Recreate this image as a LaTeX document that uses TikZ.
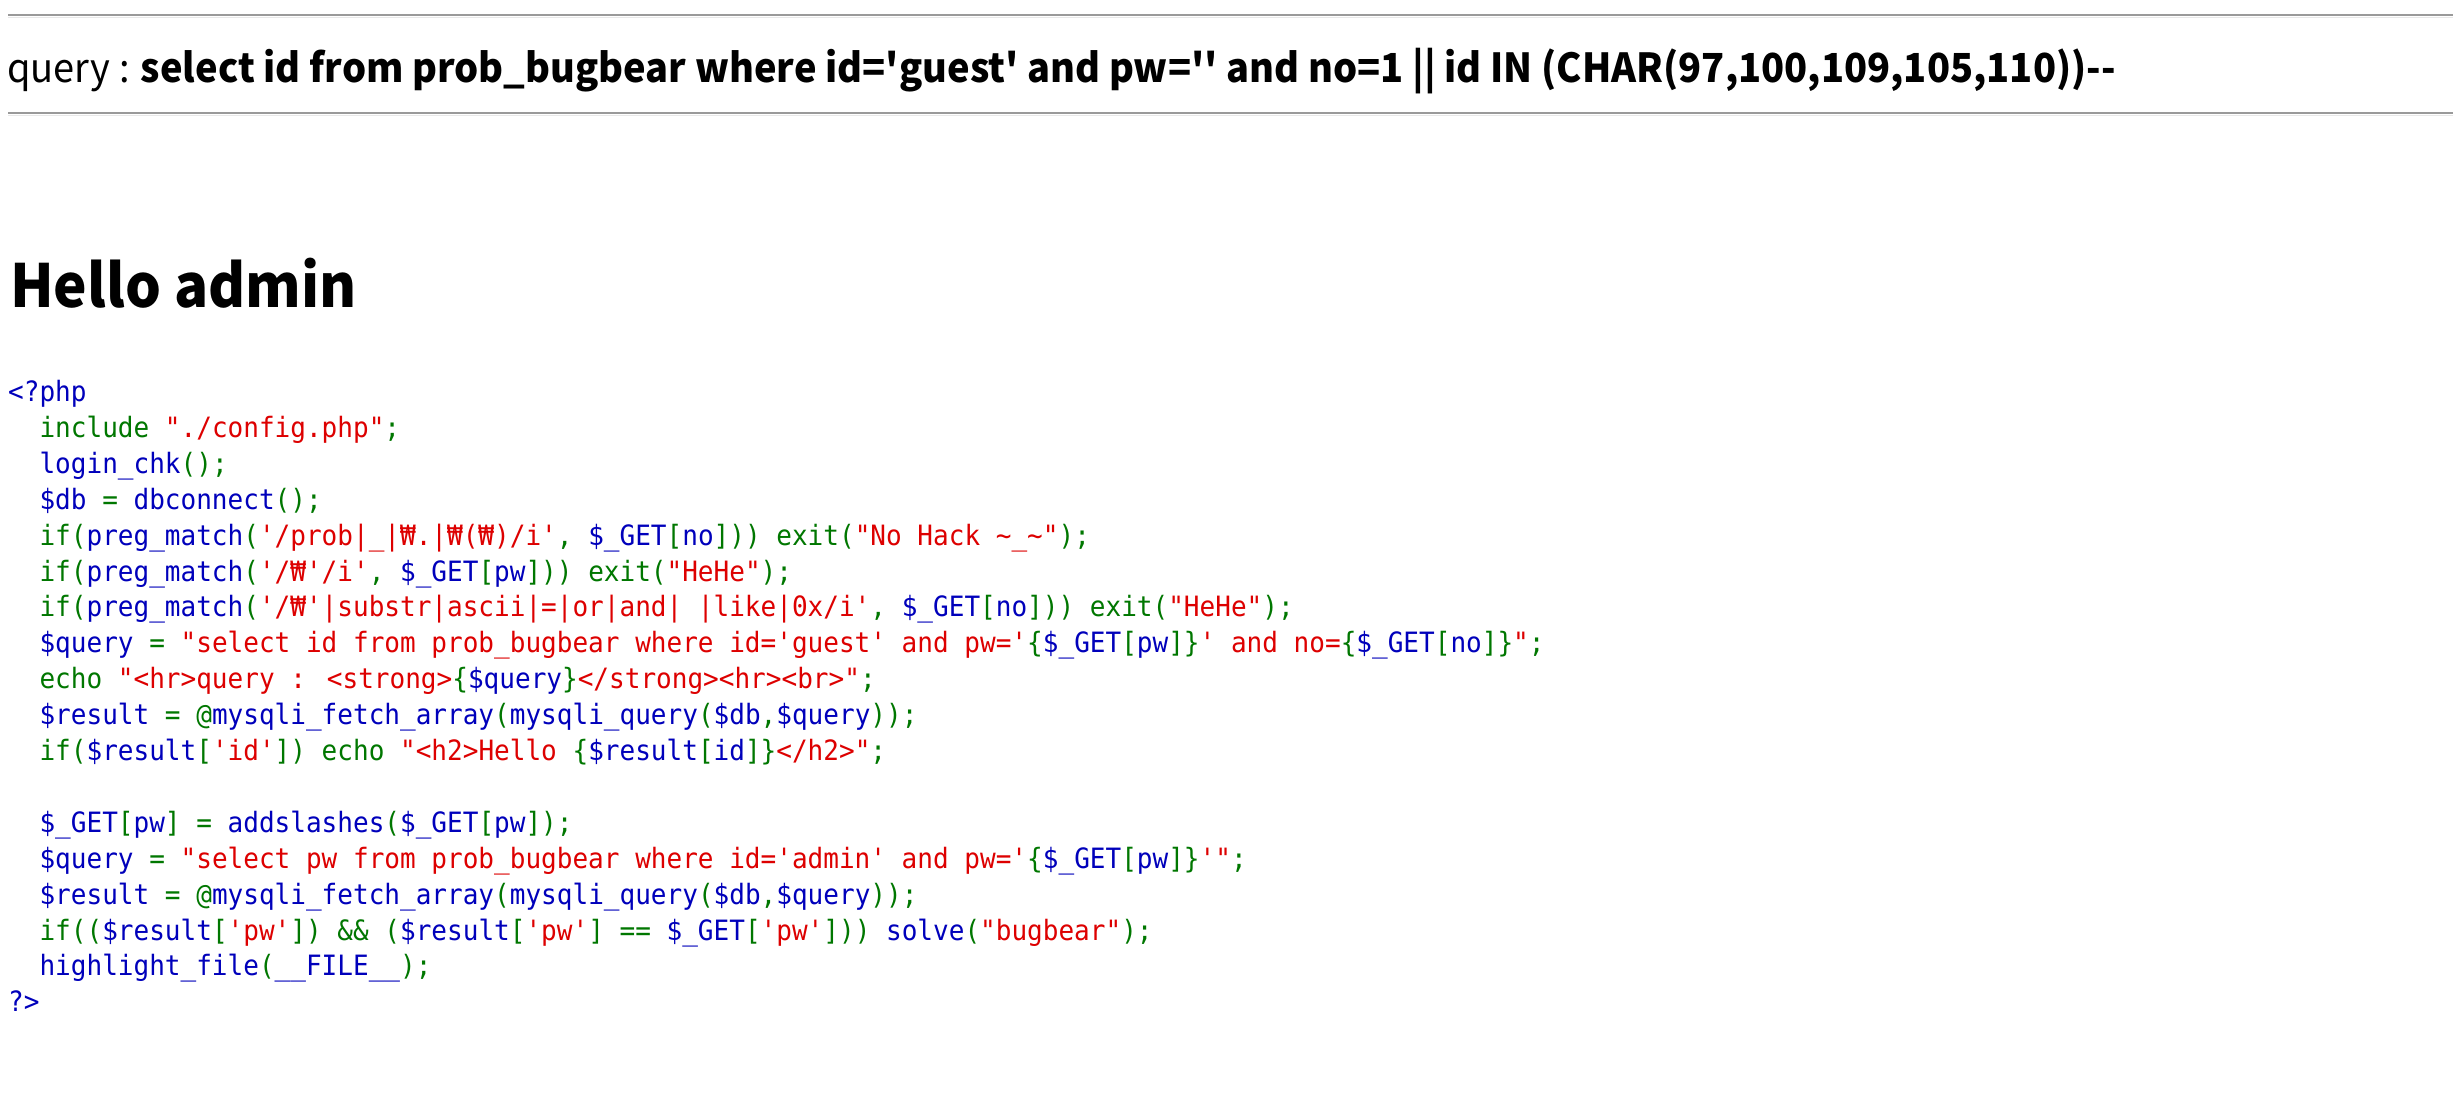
\documentclass[tikz,border=0pt]{standalone}
\usepackage{fontspec}
\newfontfamily\krfont{Noto Sans CJK KR}[Ligatures=TeXOff,FakeStretch=0.95]
\newfontfamily\codefont{DejaVu Sans Mono}[Ligatures=TeXOff,FakeStretch=0.93]
\definecolor{phpblue}{HTML}{0000BB}
\definecolor{phpgreen}{HTML}{007700}
\definecolor{phpred}{HTML}{DD0000}
\definecolor{hrdark}{HTML}{9A9A9A}
\definecolor{hrlight}{HTML}{E8E8E8}
\newcommand\cB[1]{{\color{phpblue}\relax#1}}
\newcommand\cG[1]{{\color{phpgreen}\relax#1}}
\newcommand\cR[1]{{\color{phpred}\relax#1}}
\newcommand\ind{\phantom{xx}}
\begin{document}
\begin{tikzpicture}[x=1pt,y=-1pt,
  code/.style={anchor=base west,inner sep=0pt,font=\codefont\fontsize{28}{36}\selectfont},
  qtext/.style={anchor=base west,inner sep=0pt,font=\krfont\fontsize{40}{48}\selectfont},
  htext/.style={anchor=base west,inner sep=0pt,font=\krfont\bfseries\fontsize{59.5}{70}\selectfont},
  hrtop/.style={draw=hrdark,line width=2pt},
  hrbot/.style={draw=hrlight,line width=1.6pt}]
\useasboundingbox[fill=white] (0,0) rectangle (2453,1105);
% horizontal rules
\coordinate (h1a) at (8,15);
\coordinate (h1b) at (2453,15);
\coordinate (h1c) at (8,17.6);
\coordinate (h1d) at (2453,17.6);
\draw[hrtop] (h1a) -- (h1b);
\draw[hrbot] (h1c) -- (h1d);
\coordinate (h2a) at (8,113);
\coordinate (h2b) at (2453,113);
\coordinate (h2c) at (8,115.6);
\coordinate (h2d) at (2453,115.6);
\draw[hrtop] (h2a) -- (h2b);
\draw[hrbot] (h2c) -- (h2d);
% query line
\node[qtext] (query) at (7,83) {query : \textbf{select id from prob\_bugbear where id='guest' and pw='' and no=1 || id IN (CHAR(97,100,109,105,110))--}};
% heading
\node[htext] (hello) at (10,307) {Hello admin};
% code
\node[code] (l0) at (8,401.5) {\cB{<?php}};
\node[code] (l1) at (8,437.4) {\ind\cG{include }\cR{"./config.php"}\cG{;}};
\node[code] (l2) at (8,473.3) {\ind\cB{login\_chk}\cG{();}};
\node[code] (l3) at (8,509.2) {\ind\cB{\$db}\cG{ = }\cB{dbconnect}\cG{();}};
\node[code] (l4) at (8,545.1) {\ind\cG{if(}\cB{preg\_match}\cG{(}\cR{'/prob|\_|₩.|₩(₩)/i'}\cG{, }\cB{\$\_GET}\cG{[}\cB{no}\cG{])) exit(}\cR{"No Hack \textasciitilde\_\textasciitilde"}\cG{);}};
\node[code] (l5) at (8,581.0) {\ind\cG{if(}\cB{preg\_match}\cG{(}\cR{'/₩'/i'}\cG{, }\cB{\$\_GET}\cG{[}\cB{pw}\cG{])) exit(}\cR{"HeHe"}\cG{);}};
\node[code] (l6) at (8,616.9) {\ind\cG{if(}\cB{preg\_match}\cG{(}\cR{'/₩'|substr|ascii|=|or|and| |like|0x/i'}\cG{, }\cB{\$\_GET}\cG{[}\cB{no}\cG{])) exit(}\cR{"HeHe"}\cG{);}};
\node[code] (l7) at (8,652.8) {\ind\cB{\$query}\cG{ = }\cR{"select id from prob\_bugbear where id='guest' and pw='}\cG{\{}\cB{\$\_GET}\cG{[}\cB{pw}\cG{]\}}\cR{' and no=}\cG{\{}\cB{\$\_GET}\cG{[}\cB{no}\cG{]\}}\cR{"}\cG{;}};
\node[code] (l8) at (8,688.7) {\ind\cG{echo }\cR{"<hr>query : <strong>}\cG{\{}\cB{\$query}\cG{\}}\cR{</strong><hr><br>"}\cG{;}};
\node[code] (l9) at (8,724.6) {\ind\cB{\$result}\cG{ = @}\cB{mysqli\_fetch\_array}\cG{(}\cB{mysqli\_query}\cG{(}\cB{\$db}\cG{,}\cB{\$query}\cG{));}};
\node[code] (l10) at (8,760.5) {\ind\cG{if(}\cB{\$result}\cG{[}\cR{'id'}\cG{]) echo }\cR{"<h2>Hello }\cG{\{}\cB{\$result}\cG{[}\cB{id}\cG{]\}}\cR{</h2>"}\cG{;}};
\node[code] (l12) at (8,832.3) {\ind\cB{\$\_GET}\cG{[}\cB{pw}\cG{] = }\cB{addslashes}\cG{(}\cB{\$\_GET}\cG{[}\cB{pw}\cG{]);}};
\node[code] (l13) at (8,868.2) {\ind\cB{\$query}\cG{ = }\cR{"select pw from prob\_bugbear where id='admin' and pw='}\cG{\{}\cB{\$\_GET}\cG{[}\cB{pw}\cG{]\}}\cR{'"}\cG{;}};
\node[code] (l14) at (8,904.1) {\ind\cB{\$result}\cG{ = @}\cB{mysqli\_fetch\_array}\cG{(}\cB{mysqli\_query}\cG{(}\cB{\$db}\cG{,}\cB{\$query}\cG{));}};
\node[code] (l15) at (8,940.0) {\ind\cG{if((}\cB{\$result}\cG{[}\cR{'pw'}\cG{]) \&\& (}\cB{\$result}\cG{[}\cR{'pw'}\cG{] == }\cB{\$\_GET}\cG{[}\cR{'pw'}\cG{])) }\cB{solve}\cG{(}\cR{"bugbear"}\cG{);}};
\node[code] (l16) at (8,975.9) {\ind\cB{highlight\_file}\cG{(}\cB{\_\_FILE\_\_}\cG{);}};
\node[code] (l17) at (8,1011.8) {\cB{?>}};
\end{tikzpicture}
\end{document}
